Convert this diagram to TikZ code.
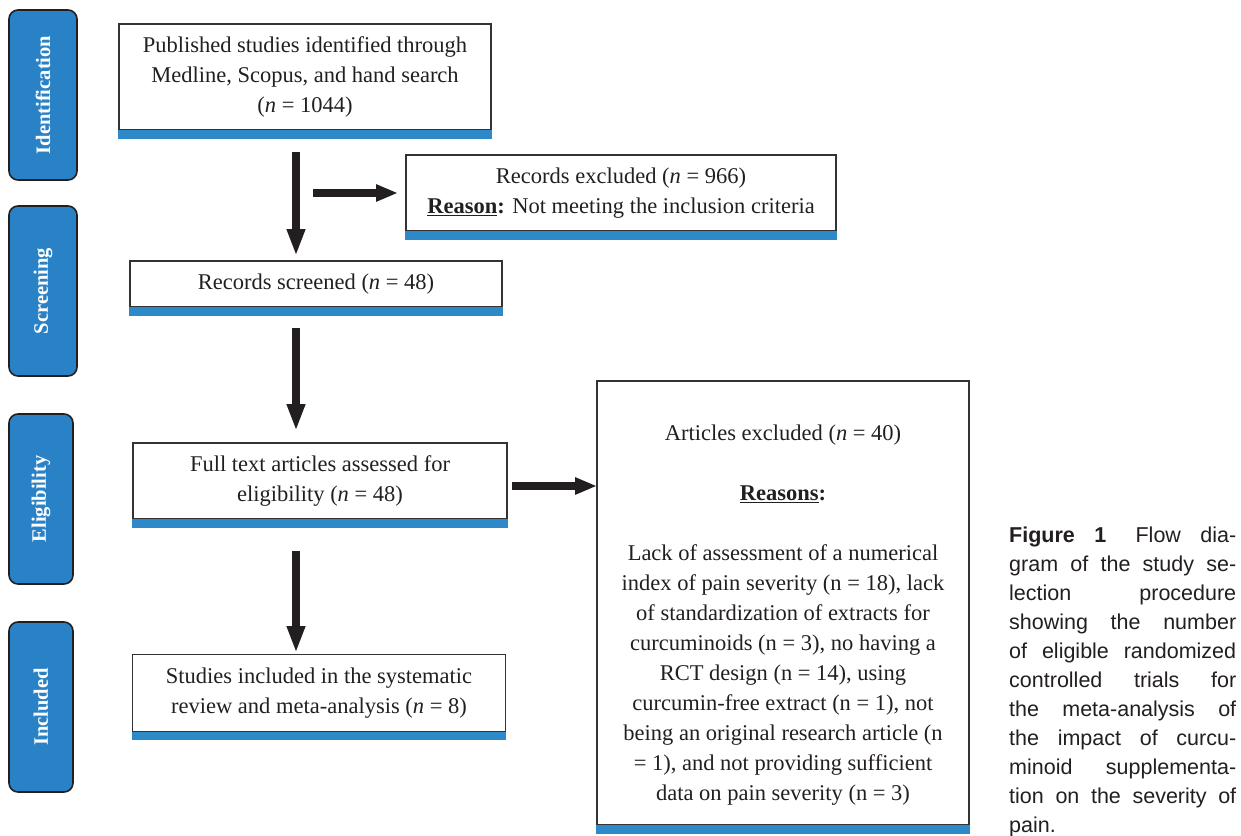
\documentclass[tikz,border=0pt]{standalone}
\usepackage{fontspec}
\setmainfont{Liberation Serif}
\setsansfont{Liberation Sans}
\usetikzlibrary{arrows.meta}
\definecolor{stripblue}{HTML}{2E89C8}
\definecolor{sideblue}{HTML}{2A82C6}
\definecolor{inkdark}{HTML}{231F20}
\definecolor{boxline}{HTML}{333333}
\newcommand{\ulbf}[1]{\underline{\textbf{#1}}}
\newcommand{\capline}[1]{\makebox[227pt][s]{#1}}
\tikzset{
  mainbox/.style={draw=boxline, line width=1.5pt, fill=white, rectangle, inner sep=0pt,
    align=center, font=\fontsize{22.5}{30}\selectfont, text=inkdark},
  boxtext/.style={inner sep=0pt, align=center, font=\fontsize{22.5}{30}\selectfont, text=inkdark},
  sidebox/.style={draw=inkdark, line width=1.6pt, fill=sideblue, rounded corners=9pt,
    rectangle, inner sep=0pt},
  sidetext/.style={rotate=90, text=white, font=\fontsize{20.5}{24}\selectfont\bfseries},
  bigarrow/.style={draw=inkdark, line width=8pt,
    -{Triangle[length=27pt,width=17pt]}},
  sidearrow/.style={draw=inkdark, line width=8pt,
    -{Triangle[length=22pt,width=16pt]}},
  strip/.style={fill=stripblue, draw=none}
}
\begin{document}
\begin{tikzpicture}[x=1pt,y=-1pt]
\useasboundingbox (0,0) rectangle (1241,835);
\fill[white] (0,0) rectangle (1241,835);

% side labels
\node[sidebox, minimum width=68pt, minimum height=170pt] (s1) at (43,95) {};
\node[sidetext] at (s1.center) {Identification};
\node[sidebox, minimum width=68pt, minimum height=170pt] (s2) at (43,291) {};
\node[sidetext] at (s2.center) {Screening};
\node[sidebox, minimum width=64pt, minimum height=170pt] (s3) at (41,499) {};
\node[sidetext] at (s3.center) {Eligibility};
\node[sidebox, minimum width=64pt, minimum height=170pt] (s4) at (41,707) {};
\node[sidetext] at (s4.center) {Included};

% main boxes
\node[mainbox, minimum width=372pt, minimum height=106pt] (b1) at (305,77)
  {Published studies identified through\\Medline, Scopus, and hand search\\(\textit{n} = 1044)};
\node[mainbox, minimum width=430pt, minimum height=76pt] (b2) at (621,193)
  {Records excluded (\textit{n} = 966)\\\ulbf{Reason}\textbf{:} Not meeting the inclusion criteria};
\node[mainbox, minimum width=372pt, minimum height=46pt] (b3) at (316,284)
  {Records screened (\textit{n} = 48)};
\node[mainbox, minimum width=374pt, minimum height=76pt] (b4) at (320,481)
  {Full text articles assessed for\\eligibility (\textit{n} = 48)};
\node[mainbox, minimum width=373pt, minimum height=77pt] (b5) at (319,693)
  {Studies included in the systematic\\review and meta-analysis (\textit{n} = 8)};
\node[mainbox, minimum width=372pt, minimum height=444pt] (b6) at (783,603) {};
\node[boxtext] (t6) at ([yshift=-12pt]b6.center)
  {Articles excluded (\textit{n} = 40)\\[30pt]\ulbf{Reasons}\textbf{:}\\[30pt]
   Lack of assessment of a numerical\\index of pain severity (n = 18), lack\\
   of standardization of extracts for\\curcuminoids (n = 3), no having a\\
   RCT design (n = 14), using\\curcumin-free extract (n = 1), not\\
   being an original research article (n\\= 1), and not providing sufficient\\
   data on pain severity (n = 3)};

% blue strips
\foreach \b in {b1,b2,b3,b4,b5,b6}{
  \fill[strip] ([yshift=0.75pt]\b.south west) rectangle ([yshift=-8pt]\b.south east);
}

% arrows
\coordinate (a1s) at (296,152);
\coordinate (a1e) at (296,256);
\coordinate (a2s) at (313,193);
\coordinate (a2e) at (398,193);
\coordinate (a3s) at (296,328);
\coordinate (a3e) at (296,431);
\coordinate (a4s) at (512,486);
\coordinate (a4e) at (597,486);
\coordinate (a5s) at (296,551);
\coordinate (a5e) at (296,653);
\draw[bigarrow] (a1s) -- (a1e);
\draw[sidearrow] (a2s) -- (a2e);
\draw[bigarrow] (a3s) -- (a3e);
\draw[sidearrow] (a4s) -- (a4e);
\draw[bigarrow] (a5s) -- (a5e);

% caption
\node[anchor=north west, inner sep=0pt, align=left, text=inkdark,
  font=\sffamily\fontsize{21.5}{29}\selectfont] (cap) at (1009,527) {%
  \capline{\textbf{Figure 1}\hspace{10pt} Flow dia-}\\
  \capline{gram of the study se-}\\
  \capline{lection procedure}\\
  \capline{showing the number}\\
  \capline{of eligible randomized}\\
  \capline{controlled trials for}\\
  \capline{the meta-analysis of}\\
  \capline{the impact of curcu-}\\
  \capline{minoid supplementa-}\\
  \capline{tion on the severity of}\\
  pain.};
\end{tikzpicture}
\end{document}
